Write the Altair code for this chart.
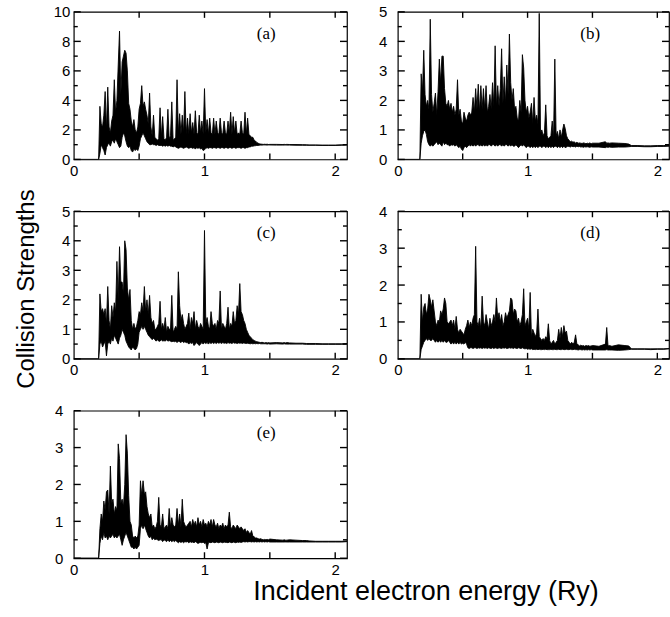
import altair as alt
import pandas as pd

# Incident electron energy mesh (Ry)
ENERGY = [
    0.0,
    0.17, 0.18, 0.19, 0.20, 0.21, 0.22, 0.23, 0.24, 0.25, 0.26,
    0.27, 0.28, 0.29, 0.30, 0.31, 0.32, 0.33, 0.34, 0.35, 0.36,
    0.37, 0.38, 0.39, 0.40, 0.41, 0.42, 0.43, 0.44, 0.45, 0.46,
    0.47, 0.48, 0.49, 0.50, 0.51, 0.52, 0.53, 0.54, 0.55, 0.56,
    0.57, 0.58, 0.59, 0.60, 0.61, 0.62, 0.63, 0.64, 0.65, 0.66,
    0.67, 0.68, 0.69, 0.70, 0.71, 0.72, 0.73, 0.74, 0.75, 0.76,
    0.77, 0.78, 0.79, 0.80, 0.81, 0.82, 0.83, 0.84, 0.85, 0.86,
    0.87, 0.88, 0.89, 0.90, 0.91, 0.92, 0.93, 0.94, 0.95, 0.96,
    0.97, 0.98, 0.99, 1.00, 1.01, 1.02, 1.03, 1.04, 1.05, 1.06,
    1.07, 1.08, 1.09, 1.10, 1.11, 1.12, 1.13, 1.14, 1.15, 1.16,
    1.17, 1.18, 1.19, 1.20, 1.21, 1.22, 1.23, 1.24, 1.25, 1.26,
    1.27, 1.28, 1.29, 1.30, 1.31, 1.32, 1.33, 1.34, 1.35, 1.36,
    1.37, 1.38, 1.39, 1.40, 1.41, 1.42, 1.43, 1.44, 1.45, 1.46,
    1.47, 1.48, 1.49, 1.50,
    1.55, 1.60, 1.61, 1.62, 1.63, 1.65, 1.70, 1.75, 1.78, 1.80,
    1.85, 1.90, 1.95, 2.00, 2.05, 2.09,
]

# ---- panel (a): upper / lower envelope of the resonance structure
A_HI = [0,
    0, 0, 0, 3.6, 2.4, 2.2, 3.0, 4.6, 2.0, 4.9,
    2.2, 1.8, 2.6, 3.0, 5.4, 3.2, 4.0, 6.4, 8.7, 4.4,
    6.6, 7.0, 7.4, 7.2, 6.0, 3.8, 3.4, 2.6, 2.2, 2.7,
    2.0, 1.8, 2.2, 3.4, 3.8, 5.0, 3.6, 3.9, 3.4, 3.0,
    2.4, 4.5, 2.2, 1.6, 3.0, 1.5, 1.4, 1.3, 1.4, 3.5,
    1.5, 2.9, 1.4, 1.3, 1.5, 3.4, 1.4, 1.6, 3.9, 1.3,
    1.4, 1.5, 5.4, 1.8, 3.1, 1.7, 3.0, 1.8, 4.6, 1.7,
    2.8, 1.7, 3.1, 1.8, 2.5, 1.7, 3.3, 1.8, 1.7, 3.0,
    1.8, 2.6, 1.7, 4.8, 1.8, 2.7, 1.7, 2.8, 1.8, 1.7,
    2.8, 1.7, 2.6, 1.8, 1.7, 2.8, 1.8, 1.7, 2.6, 1.8,
    1.7, 2.6, 1.8, 3.2, 1.7, 2.9, 1.8, 2.6, 1.7, 1.8,
    1.7, 2.6, 1.8, 1.7, 3.2, 1.7, 2.8, 1.7, 1.6, 1.5,
    1.5, 1.3, 1.25, 1.15, 1.1, 1.06, 1.04, 1.03, 1.02, 1.03,
    1.02, 1.03, 1.01, 1.02,
    1.02, 1.01, 1.02, 1.01, 1.02, 1.01, 1.01, 1.0, 0.99, 0.98,
    0.98, 0.97, 0.97, 0.97, 0.99, 1.0]
A_LO = [0,
    0, 0, 0, 0.4, 1.0, 0.8, 0.6, 0.3, 0.8, 1.0,
    1.1, 0.9, 1.2, 1.3, 1.1, 1.4, 1.2, 1.0, 0.8, 0.9,
    1.5, 1.8, 1.6, 1.2, 0.9, 0.8, 0.9, 0.6, 0.5, 0.7,
    0.6, 0.7, 0.6, 0.9, 1.4, 1.6, 1.8, 1.6, 1.4, 1.2,
    1.1, 1.0, 1.0, 1.05, 1.0, 1.0, 0.95, 1.0, 0.95, 0.95,
    0.95, 0.9, 0.95, 0.9, 0.95, 0.9, 0.95, 0.9, 0.9, 0.85,
    0.9, 0.85, 0.8, 0.75, 0.8, 0.85, 0.8, 0.75, 0.8, 0.85,
    0.8, 0.75, 0.8, 0.8, 0.75, 0.8, 0.7, 0.8, 0.75, 0.8,
    0.7, 0.75, 0.6, 0.65, 0.75, 0.8, 0.75, 0.8, 0.8, 0.75,
    0.8, 0.8, 0.75, 0.8, 0.8, 0.75, 0.8, 0.8, 0.75, 0.8,
    0.8, 0.75, 0.8, 0.8, 0.75, 0.8, 0.8, 0.75, 0.8, 0.8,
    0.8, 0.75, 0.8, 0.8, 0.75, 0.8, 0.8, 0.85, 0.85, 0.9,
    0.9, 0.92, 0.93, 0.95, 0.95, 0.96, 0.97, 0.97, 0.98, 0.98,
    0.98, 0.97, 0.98, 0.98,
    0.97, 0.97, 0.97, 0.97, 0.97, 0.97, 0.96, 0.96, 0.96, 0.96,
    0.96, 0.95, 0.95, 0.95, 0.96, 0.98]

# ---- panel (b)
B_HI = [0,
    0, 2.9, 2.3, 3.7, 2.2, 1.8, 2.0, 1.7, 4.75, 2.2,
    1.6, 1.9, 2.25, 1.5, 2.3, 3.4, 2.6, 3.5, 3.5, 2.4,
    1.9, 1.8, 2.0, 1.7, 1.9, 1.6, 1.8, 1.5, 1.7, 2.7,
    1.5, 1.7, 1.3, 1.2, 1.6, 1.4, 1.3, 1.5, 1.6, 1.5,
    1.6, 2.1, 1.6, 2.4, 1.7, 2.55, 1.6, 2.5, 1.7, 2.4,
    1.7, 2.5, 1.6, 1.8, 2.2, 1.7, 2.6, 1.8, 3.85, 1.8,
    2.5, 1.8, 2.4, 3.75, 1.9, 2.8, 1.9, 3.2, 2.2, 4.25,
    2.6, 2.0, 2.4, 1.7, 1.8, 1.4, 1.3, 2.0, 1.6, 3.55,
    3.1, 2.0, 1.6, 1.8, 1.4, 1.6, 1.9, 1.2, 2.1, 1.3,
    1.5, 1.2, 4.95, 0.9, 1.0, 0.8, 0.9, 1.85, 0.8, 0.7,
    0.75, 0.8, 1.3, 0.7, 3.4, 0.8, 0.95, 0.7, 1.0, 0.75,
    1.0, 1.2, 1.05, 0.8, 0.7, 0.65, 0.6, 0.62, 0.58, 0.6,
    0.55, 0.58, 0.55, 0.56, 0.55, 0.54, 0.56, 0.55, 0.53, 0.55,
    0.54, 0.56, 0.53, 0.55,
    0.55, 0.6, 0.55, 0.56, 0.55, 0.56, 0.55, 0.54, 0.52, 0.47,
    0.47, 0.46, 0.46, 0.47, 0.47, 0.48]
B_LO = [0,
    0, 0.55, 0.8, 0.95, 1.0, 0.85, 0.6, 0.5, 0.45, 0.5,
    0.45, 0.5, 0.55, 0.6, 0.5, 0.55, 0.5, 0.45, 0.6, 0.5,
    0.55, 0.5, 0.5, 0.45, 0.5, 0.48, 0.5, 0.45, 0.5, 0.45,
    0.4, 0.45, 0.35, 0.3, 0.4, 0.45, 0.4, 0.45, 0.5, 0.45,
    0.5, 0.45, 0.5, 0.45, 0.5, 0.5, 0.45, 0.5, 0.45, 0.5,
    0.45, 0.5, 0.45, 0.5, 0.5, 0.45, 0.5, 0.5, 0.45, 0.5,
    0.45, 0.5, 0.5, 0.45, 0.5, 0.45, 0.5, 0.5, 0.45, 0.5,
    0.45, 0.5, 0.45, 0.45, 0.5, 0.45, 0.4, 0.45, 0.5, 0.45,
    0.5, 0.45, 0.4, 0.45, 0.45, 0.4, 0.45, 0.4, 0.45, 0.4,
    0.45, 0.4, 0.45, 0.45, 0.4, 0.45, 0.45, 0.4, 0.45, 0.4,
    0.45, 0.4, 0.45, 0.4, 0.45, 0.45, 0.4, 0.45, 0.4, 0.45,
    0.4, 0.45, 0.4, 0.42, 0.45, 0.44, 0.42, 0.45, 0.43, 0.44,
    0.42, 0.45, 0.43, 0.44, 0.42, 0.43, 0.41, 0.43, 0.42, 0.43,
    0.42, 0.41, 0.43, 0.42,
    0.42, 0.4, 0.42, 0.41, 0.42, 0.41, 0.42, 0.42, 0.43, 0.44,
    0.44, 0.43, 0.43, 0.44, 0.44, 0.45]

# ---- panel (c)
C_HI = [0,
    0, 0, 0, 2.2, 1.6, 1.7, 1.5, 1.7, 1.2, 2.45,
    1.3, 1.0, 1.8, 1.4, 1.9, 1.6, 3.3, 2.0, 3.8, 2.6,
    2.6, 2.2, 4.0, 3.7, 2.4, 2.0, 2.35, 1.3, 1.0, 1.2,
    1.0, 1.1, 1.3, 1.6, 1.5, 1.9, 1.6, 2.45, 1.6, 2.0,
    1.5, 2.15, 1.4, 1.2, 1.3, 1.0, 1.0, 1.1, 1.2, 1.95,
    1.0, 1.2, 1.0, 1.4, 0.9, 1.1, 1.0, 1.0, 2.15, 0.9,
    1.0, 1.1, 1.0, 2.95, 1.8, 1.3, 1.5, 1.2, 1.0, 1.1,
    1.2, 1.55, 1.0, 1.4, 1.2, 1.6, 1.0, 1.3, 1.1, 1.0,
    1.2, 1.1, 1.0, 4.35, 1.2, 1.4, 1.1, 1.0, 1.6, 1.2,
    1.1, 1.2, 1.0, 1.3, 1.2, 2.3, 1.0, 1.2, 1.1, 1.0,
    1.2, 1.75, 1.0, 1.2, 1.1, 1.6, 1.2, 1.3, 1.8, 1.5,
    2.55, 1.6, 1.5, 1.3, 1.2, 1.0, 0.9, 0.8, 0.75, 0.7,
    0.65, 0.62, 0.6, 0.58, 0.57, 0.56, 0.55, 0.56, 0.55, 0.54,
    0.55, 0.54, 0.55, 0.54,
    0.55, 0.54, 0.55, 0.54, 0.55, 0.54, 0.53, 0.53, 0.52, 0.52,
    0.52, 0.51, 0.51, 0.51, 0.51, 0.52]
C_LO = [0,
    0, 0, 0, 0.5, 0.6, 0.4, 0.5, 0.6, 0.1, 0.5,
    0.6, 0.5, 0.7, 0.6, 0.8, 0.7, 0.6, 0.5, 0.7, 0.8,
    1.0, 0.9, 0.8, 0.6, 0.5, 0.4, 0.35, 0.3, 0.4, 0.35,
    0.3, 0.35, 0.5, 0.9, 1.0, 1.1, 1.0, 1.1, 1.0, 0.9,
    0.8, 0.75, 0.7, 0.65, 0.7, 0.65, 0.6, 0.65, 0.6, 0.6,
    0.65, 0.6, 0.62, 0.6, 0.65, 0.6, 0.62, 0.6, 0.58, 0.6,
    0.58, 0.6, 0.55, 0.6, 0.58, 0.55, 0.6, 0.55, 0.58, 0.55,
    0.55, 0.5, 0.55, 0.52, 0.55, 0.45, 0.5, 0.55, 0.5, 0.45,
    0.5, 0.55, 0.5, 0.55, 0.52, 0.55, 0.5, 0.55, 0.52, 0.55,
    0.52, 0.55, 0.52, 0.55, 0.53, 0.55, 0.52, 0.55, 0.53, 0.54,
    0.52, 0.55, 0.53, 0.54, 0.52, 0.55, 0.53, 0.54, 0.52, 0.54,
    0.53, 0.54, 0.52, 0.54, 0.53, 0.52, 0.53, 0.52, 0.51, 0.52,
    0.51, 0.52, 0.51, 0.52, 0.51, 0.52, 0.51, 0.51, 0.51, 0.51,
    0.51, 0.5, 0.51, 0.5,
    0.51, 0.5, 0.51, 0.5, 0.5, 0.5, 0.5, 0.5, 0.49, 0.49,
    0.49, 0.49, 0.49, 0.49, 0.49, 0.5]

# ---- panel (d)
D_HI = [0,
    0, 1.75, 1.0, 1.4, 1.5, 1.2, 1.35, 1.75, 1.6, 1.4,
    1.6, 1.3, 1.0, 0.9, 1.05, 1.0, 1.3, 1.2, 1.35, 1.65,
    1.5, 1.0, 0.95, 1.0, 1.05, 0.9, 1.05, 0.8, 1.15, 0.8,
    0.7, 0.8, 0.75, 0.7, 0.65, 0.8, 0.9, 1.05, 0.85, 1.0,
    0.9, 1.1, 1.2, 3.05, 1.0, 0.9, 1.1, 0.8, 1.7, 1.0,
    0.9, 1.2, 1.0, 0.8, 1.1, 0.9, 1.0, 1.2, 1.0, 1.65,
    1.1, 1.25, 1.0, 1.2, 0.9, 1.0, 1.25, 1.1, 1.2, 1.3,
    1.65, 1.6, 1.2, 1.35, 1.3, 1.0, 1.1, 0.9, 1.0, 1.2,
    1.9, 0.9, 1.0, 1.1, 0.8, 1.8, 0.6, 0.8, 0.7, 0.6,
    0.7, 1.35, 0.6, 0.55, 0.5, 0.55, 0.5, 0.6, 0.55, 0.95,
    0.5, 0.4, 0.45, 0.5, 0.4, 0.45, 0.5, 0.8, 0.55, 0.85,
    0.6, 0.9, 0.7, 0.75, 0.5, 0.45, 0.4, 0.45, 0.4, 0.45,
    0.65, 0.4, 0.38, 0.35, 0.37, 0.35, 0.36, 0.34, 0.36, 0.35,
    0.36, 0.34, 0.35, 0.36,
    0.34, 0.4, 0.85, 0.35, 0.36, 0.34, 0.38, 0.36, 0.35, 0.27,
    0.27, 0.27, 0.27, 0.27, 0.27, 0.28]
D_LO = [0,
    0, 0.25, 0.35, 0.45, 0.5, 0.55, 0.5, 0.55, 0.5, 0.5,
    0.55, 0.5, 0.45, 0.5, 0.45, 0.5, 0.45, 0.5, 0.45, 0.5,
    0.45, 0.45, 0.5, 0.45, 0.4, 0.45, 0.4, 0.45, 0.4, 0.45,
    0.4, 0.45, 0.4, 0.42, 0.4, 0.45, 0.4, 0.3, 0.28, 0.3,
    0.3, 0.28, 0.3, 0.3, 0.28, 0.3, 0.29, 0.3, 0.28, 0.3,
    0.29, 0.3, 0.28, 0.3, 0.29, 0.28, 0.3, 0.28, 0.3, 0.29,
    0.28, 0.3, 0.29, 0.28, 0.3, 0.29, 0.3, 0.28, 0.29, 0.3,
    0.29, 0.3, 0.28, 0.3, 0.29, 0.28, 0.3, 0.29, 0.28, 0.3,
    0.28, 0.27, 0.28, 0.26, 0.27, 0.26, 0.27, 0.25, 0.26, 0.25,
    0.26, 0.25, 0.26, 0.25, 0.25, 0.26, 0.25, 0.26, 0.25, 0.25,
    0.25, 0.26, 0.25, 0.25, 0.26, 0.25, 0.25, 0.26, 0.25, 0.25,
    0.26, 0.25, 0.25, 0.26, 0.25, 0.25, 0.26, 0.25, 0.25, 0.26,
    0.25, 0.25, 0.24, 0.25, 0.25, 0.24, 0.25, 0.24, 0.25, 0.24,
    0.25, 0.24, 0.25, 0.24,
    0.24, 0.24, 0.25, 0.24, 0.24, 0.24, 0.23, 0.24, 0.25, 0.26,
    0.26, 0.26, 0.25, 0.26, 0.26, 0.27]

# ---- panel (e)
E_HI = [0,
    0, 0, 0, 0.8, 1.2, 1.0, 1.55, 1.3, 1.8, 1.85,
    1.2, 2.5, 1.5, 1.6, 1.2, 1.4, 1.3, 3.1, 2.7, 1.5,
    1.6, 1.4, 2.0, 3.35, 2.85, 1.7, 1.0, 0.9, 0.6, 0.55,
    0.6, 0.55, 0.6, 0.9, 2.1, 1.7, 2.1, 1.75, 1.8, 1.4,
    1.2, 1.1, 1.2, 0.85, 0.9, 0.8, 0.85, 1.0, 1.65, 0.9,
    0.85, 1.2, 0.8, 0.85, 0.9, 0.8, 1.35, 0.85, 1.1, 0.9,
    0.85, 0.9, 1.35, 0.9, 1.2, 0.85, 1.6, 1.0, 0.9, 0.85,
    0.9, 0.95, 1.0, 0.85, 1.05, 0.9, 1.0, 0.85, 1.1, 0.9,
    1.0, 0.85, 1.05, 0.9, 0.95, 0.85, 1.0, 0.9, 1.05, 0.85,
    1.05, 0.9, 0.85, 0.95, 0.8, 0.9, 0.85, 0.95, 0.8, 0.9,
    0.85, 0.9, 1.25, 0.85, 0.8, 0.9, 0.85, 0.8, 0.9, 0.85,
    0.8, 0.85, 0.8, 0.75, 0.8, 0.7, 0.75, 0.7, 0.65, 0.75,
    0.6, 0.58, 0.55, 0.55, 0.53, 0.52, 0.53, 0.51, 0.5, 0.51,
    0.5, 0.51, 0.5, 0.52,
    0.5, 0.49, 0.5, 0.49, 0.49, 0.5, 0.49, 0.48, 0.48, 0.47,
    0.46, 0.46, 0.46, 0.46, 0.46, 0.47]
E_LO = [0,
    0, 0, 0, 0.4, 0.6, 0.5, 0.7, 0.55, 0.6, 0.5,
    0.6, 0.55, 0.6, 0.65, 0.55, 0.6, 0.55, 0.6, 0.65, 0.5,
    0.35, 0.5, 0.6, 0.7, 0.6, 0.5, 0.4, 0.3, 0.3, 0.25,
    0.3, 0.25, 0.3, 0.35, 0.8, 0.9, 0.8, 0.9, 0.8, 0.7,
    0.6, 0.55, 0.6, 0.5, 0.55, 0.5, 0.52, 0.5, 0.48, 0.5,
    0.5, 0.45, 0.5, 0.48, 0.45, 0.5, 0.45, 0.48, 0.45, 0.48,
    0.45, 0.48, 0.45, 0.42, 0.45, 0.43, 0.45, 0.42, 0.45, 0.44,
    0.45, 0.42, 0.45, 0.43, 0.44, 0.42, 0.45, 0.43, 0.4, 0.42,
    0.43, 0.42, 0.44, 0.4, 0.42, 0.25, 0.42, 0.43, 0.42, 0.44,
    0.43, 0.42, 0.44, 0.43, 0.42, 0.44, 0.43, 0.42, 0.44, 0.43,
    0.43, 0.42, 0.44, 0.43, 0.42, 0.44, 0.43, 0.42, 0.44, 0.43,
    0.44, 0.43, 0.44, 0.45, 0.44, 0.45, 0.44, 0.45, 0.45, 0.44,
    0.45, 0.44, 0.45, 0.44, 0.45, 0.44, 0.45, 0.44, 0.45, 0.44,
    0.45, 0.44, 0.45, 0.44,
    0.44, 0.44, 0.44, 0.44, 0.44, 0.44, 0.44, 0.44, 0.44, 0.44,
    0.44, 0.44, 0.44, 0.44, 0.44, 0.45]

PANEL_LABELS = ["(a)", "(b)", "(c)", "(d)", "(e)"]
Y_MAX = [10, 5, 5, 4, 4]
Y_LABELS = [[0, 2, 4, 6, 8, 10], [0, 1, 2, 3, 4, 5], [0, 1, 2, 3, 4, 5],
            [0, 1, 2, 3, 4], [0, 1, 2, 3, 4]]
Y_MINOR = [[1, 3, 5, 7, 9], [0.5, 1.5, 2.5, 3.5, 4.5], [0.5, 1.5, 2.5, 3.5, 4.5],
           [0.5, 1.5, 2.5, 3.5], [0.5, 1.5, 2.5, 3.5]]
X_LABELS = [0, 1, 2]
X_TICKS = [0.5, 1.0, 1.5, 2.0]
X_MAX = 2.09

for arr in (A_HI, A_LO, B_HI, B_LO, C_HI, C_LO, D_HI, D_LO, E_HI, E_LO):
    assert len(arr) == len(ENERGY), len(arr)

SERIES = [(A_LO, A_HI), (B_LO, B_HI), (C_LO, C_HI), (D_LO, D_HI), (E_LO, E_HI)]

H = 148
SANS = "Liberation Sans"


def panel(i, width, label_pad, ytitle=None, xtitle=None):
    lo, hi = SERIES[i]
    df = pd.DataFrame({"E": ENERGY, "lo": lo, "hi": hi})
    xs = alt.Scale(domain=[0, X_MAX], nice=False, zero=False)
    ys = alt.Scale(domain=[0, Y_MAX[i]], nice=False, zero=False)

    xaxis_kw = dict(values=X_LABELS, format=".0f", ticks=False, domain=False,
                    grid=False, labelFont=SANS, labelFontSize=15,
                    labelColor="black", labelPadding=4, labelFlush=False,
                    labelOverlap=False)
    if xtitle:
        xaxis_kw.update(title=xtitle, titleX=352.8, titleY=41.5,
                        titleBaseline="alphabetic", titleAlign="center",
                        titleFont=SANS, titleFontSize=27,
                        titleFontWeight="normal", titleColor="black")
    else:
        xaxis_kw.update(title=None)
    yaxis_kw = dict(values=Y_LABELS[i], format=".0f", ticks=False, domain=False,
                    grid=False, labelFont=SANS, labelFontSize=15,
                    labelColor="black", labelPadding=label_pad,
                    labelFlush=False, labelOverlap=False)
    if ytitle:
        yaxis_kw.update(title=ytitle, titleX=-40, titleY=77.5, titleAngle=270,
                        titleBaseline="alphabetic", titleAlign="center",
                        titleFont=SANS, titleFontSize=24,
                        titleFontWeight="normal", titleColor="black")
    else:
        yaxis_kw.update(title=None)

    area = alt.Chart(df).mark_area(
        color="black", stroke="black", strokeWidth=0.9, clip=True,
        interpolate="linear"
    ).encode(
        x=alt.X("E:Q", scale=xs, axis=alt.Axis(**xaxis_kw)),
        y=alt.Y("hi:Q", scale=ys, axis=alt.Axis(**yaxis_kw)),
        y2="lo:Q",
    )

    # inward-pointing tick marks on all four sides of the frame
    tx = pd.DataFrame({"t": X_TICKS})
    layers = [area]
    for ypos in (H - 3, 3):
        layers.append(alt.Chart(tx).mark_tick(
            orient="vertical", size=6, thickness=1.4, color="black", opacity=1
        ).encode(x=alt.X("t:Q", scale=xs, axis=None), y=alt.value(ypos)))

    ymaj = pd.DataFrame({"v": Y_LABELS[i]})
    ymin = pd.DataFrame({"v": Y_MINOR[i]})
    for d, ln in ((ymaj, 7), (ymin, 4)):
        for xpos in (ln / 2, width - ln / 2):
            layers.append(alt.Chart(d).mark_tick(
                orient="horizontal", size=ln, thickness=1.4, color="black",
                opacity=1
            ).encode(y=alt.Y("v:Q", scale=ys, axis=None), x=alt.value(xpos)))

    lab = alt.Chart(pd.DataFrame({"lab": [PANEL_LABELS[i]]})).mark_text(
        font="Liberation Serif", fontSize=17, align="center",
        baseline="alphabetic", color="black"
    ).encode(text="lab:N", x=alt.value(193), y=alt.value(27))
    layers.append(lab)

    return alt.layer(*layers).resolve_axis(
        x="independent", y="independent"
    ).properties(width=width, height=H)


pa = panel(0, 274, 4)
pb = panel(1, 272, 11)
pc = panel(2, 274, 4, ytitle="Collision Strengths")
pd_ = panel(3, 272, 11)
pe = panel(4, 274, 11, xtitle="Incident electron energy (Ry)")

chart = alt.concat(
    pa, pb, pc, pd_, pe, columns=2, spacing={"row": 52, "column": 51}
).properties(
    bounds="flush",
    padding={"left": 14, "top": 3, "right": 0, "bottom": 0},
    background="white",
).configure_view(stroke="black", strokeWidth=1.2)

chart.save("out.html", embed_options={"renderer": "svg", "actions": False})
